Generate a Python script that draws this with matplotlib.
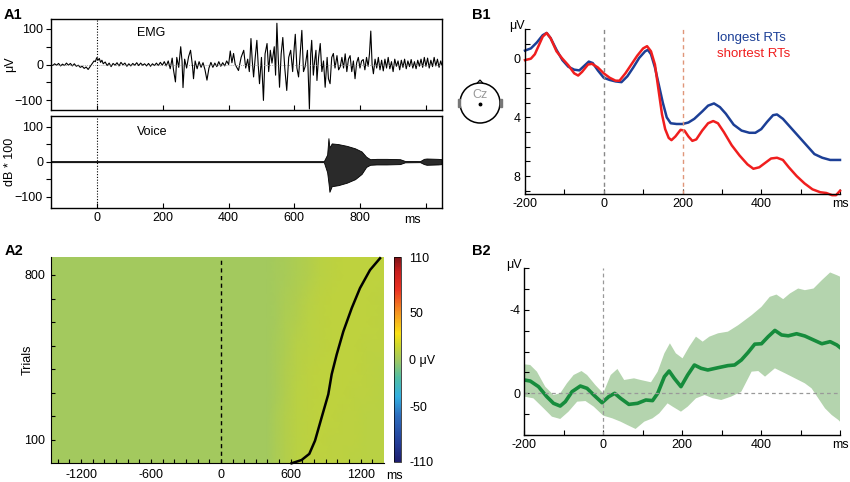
import numpy as np
import matplotlib.pyplot as plt
from matplotlib.colors import LinearSegmentedColormap, Normalize
from matplotlib.patches import Circle, Rectangle, Polygon

plt.rcParams['font.family'] = ['Liberation Sans', 'DejaVu Sans']
plt.rcParams['font.size'] = 9

# ---- A1: EMG trace (ms, uV)
emg_ms = [-142, -136, -130, -124, -118, -112, -106, -100, -94, -88, -82, -76, -70, -64, -58, -52, -46, -40,
          -34, -28, -22, -16, -10, -6, -2, 2, 6, 10, 14, 18, 24, 30, 36, 42, 48, 54, 60, 66, 72, 78, 84, 90,
          96, 102, 108, 114, 120, 126, 132, 138, 144, 150, 156, 162, 168, 174, 180, 186, 192, 198, 204, 210,
          216, 222, 228, 232, 238, 242, 248, 254, 258, 261, 266, 272, 278, 284, 290, 293, 298, 304, 310, 316,
          322, 328, 334, 340, 346, 352, 358, 364, 370, 376, 382, 388, 394, 400, 405, 410, 415, 420, 430, 438,
          446, 452, 458, 463, 468, 472, 476, 481, 486, 490, 494, 500, 506, 511, 517, 522, 527, 532, 539, 543,
          547, 551, 555, 560, 565, 571, 577, 583, 589, 595, 600, 603, 608, 613, 618, 623, 628, 633, 640, 646,
          650, 653, 658, 662, 666, 669, 674, 679, 684, 689, 694, 700, 704, 709, 714, 719, 724, 730, 735, 740,
          745, 750, 755, 760, 765, 770, 775, 780, 785, 790, 795, 800, 805, 810, 815, 820, 825, 829, 833, 837,
          841, 846, 851, 856, 861, 866, 871, 876, 881, 886, 891, 896, 901, 906, 911, 916, 921, 926, 931, 936,
          941, 946, 951, 956, 961, 966, 971, 976, 981, 986, 991, 996, 1001, 1006, 1011, 1016, 1021, 1026, 1031,
          1036, 1041, 1046, 1049]
emg_uv = [0, -3, 2, -2, 3, -4, 1, -3, 4, -2, 3, -4, 2, -5, -2, -8, -5, -11,
          -7, -14, -6, 2, 10, 8, 19, 12, 17, 6, 12, 2, 7, -3, 4, -6, 3, -2, 5, -4, 6, -1, 4, -5,
          2, -4, 3, -2, 5, -3, 4, -2, 2, -4, 3, -5, 2, -3, 4, -3, 6, -2, 8, -4,
          10, -12, 18, -15, -49, 20, -8, 50, 10, -65, 15, -10, 22, 40, -5, -40, 10, -12, 8, -8,
          5, -15, -44, -10, 6, -8, 4, -6, 8, -5, 5, -4, 10, 0, 38, 5, 31, 0, -17, 20,
          40, -10, 15, -20, 73, 10, -35, 20, 68, 0, -54, 20, -101, 30, 59, -20, 40, 4, 50, -30,
          116, 20, -64, 30, 76, -10, -73, 20, 40, -20, 50, 85, -10, -35, 30, 96, -20, -6, 40, -125,
          30, 68, -30, 10, 40, -45, 20, 59, -20, 10, -64, 20, -40, -54, 20, 31, -10, 25, -15, -6,
          20, -10, 30, -20, 15, 25, -20, 10, -40, 5, 20, -10, 10, 14, -15, 20, -5, 30, 94, 0,
          -26, 15, -10, 20, -15, 12, -18, 15, -10, 20, -12, 8, -20, 15, -5, 10, -15, 12, -8, 15,
          -12, 10, -6, 14, -10, 8, -12, 12, -5, 15, -8, 20, -5, 18, -10, 12, -6, 20, -4,
          15, -8, 10, 0]

# ---- A1: voice envelope (ms, dB*100)
voice_ms = [-142, 690, 700, 704, 707, 714, 734, 760, 785, 805, 819, 831, 851, 881, 922, 937, 983, 995, 1003, 1038, 1049]
voice_hi = [1.5, 1.5, 20, 67, 40, 52, 50, 45, 38, 29, 14, 7, 8, 8, 7, 2, 1.5, 8, 9, 8, 7]
voice_lo = [-1.5, -1.5, -30, -60, -86, -70, -67, -60, -50, -35, -15, -9, -8, -8, -7, -2, -1.5, -7, -9, -8, -7]

# ---- A2: single-trial EMG image (coarse grid read by eye) and sorted RTs
grid_ms = [-1460, 400, 470, 550, 650, 750, 850, 950, 1050, 1150, 1250, 1400]
grid_trials = [0, 100, 200, 300, 400, 500, 600, 700, 800, 875]
grid_uv = [
    [0, 0, 3, 6, 8, 9, 9, 9, 9, 8, 8, 8],
    [0, 0, 3, 6, 8, 9, 10, 9, 9, 9, 8, 8],
    [0, 0, 3, 6, 8, 9, 10, 10, 9, 9, 8, 8],
    [0, 0, 2, 5, 8, 9, 10, 10, 10, 9, 9, 8],
    [0, 0, 2, 5, 7, 9, 10, 10, 10, 10, 9, 8],
    [0, 0, 2, 4, 7, 8, 9, 10, 10, 10, 9, 9],
    [0, 0, 1, 4, 6, 8, 9, 10, 10, 10, 10, 9],
    [0, 0, 1, 3, 5, 7, 9, 10, 10, 10, 10, 9],
    [0, 0, 1, 2, 4, 6, 8, 9, 10, 10, 10, 10],
    [0, 0, 1, 2, 4, 6, 8, 9, 10, 10, 10, 10],
]
rt_ms = [607, 693, 759, 808, 865, 922, 951, 994, 1051, 1123, 1194, 1280, 1366]
rt_trial = [0, 14, 40, 96, 195, 293, 378, 462, 560, 659, 744, 821, 871]

cbar_vals = [-110, -90, -60, -40, -20, 0, 15, 28, 50, 75, 95, 110]
cbar_cols = ['#1e1e6e', '#233c96', '#2d6ebe', '#32afe1', '#50bea5', '#a2c95f',
             '#cdd72d', '#fae114', '#f59620', '#eb3223', '#c81e1e', '#7d1419']

# ---- B1: ERPs at Cz (ms, uV)
long_ms = [-200, -185, -170, -155, -145, -135, -120, -105, -90, -75, -62, -50, -38, -28, -15, 0, 15, 30, 45,
           60, 75, 90, 105, 112, 120, 130, 140, 150, 160, 170, 185, 200, 215, 230, 250, 265, 280, 295, 310,
           330, 350, 370, 385, 400, 415, 430, 440, 455, 475, 495, 515, 535, 555, 575, 600]
long_uv = [-0.55, -0.7, -1.1, -1.6, -1.75, -1.4, -0.6, 0.1, 0.55, 0.75, 0.8, 0.5, 0.2, 0.3, 0.8, 1.3, 1.45,
           1.55, 1.6, 1.2, 0.6, -0.05, -0.5, -0.6, -0.3, 0.6, 1.8, 3.0, 4.0, 4.4, 4.45, 4.45, 4.35, 4.1, 3.6,
           3.2, 3.05, 3.3, 3.75, 4.5, 4.9, 5.05, 5.05, 4.8, 4.3, 3.85, 3.8, 4.1, 4.7, 5.3, 5.9, 6.5, 6.75,
           6.9, 6.9]
short_ms = [-200, -185, -175, -165, -155, -145, -135, -120, -105, -90, -75, -65, -55, -40, -30, -15, 0, 15, 30,
            40, 55, 70, 85, 100, 110, 120, 130, 140, 148, 156, 165, 172, 182, 195, 205, 215, 225, 235, 250,
            265, 278, 290, 305, 325, 345, 365, 380, 395, 410, 425, 440, 455, 470, 490, 510, 530, 550, 565,
            580, 590, 600]
short_uv = [0.1, 0.0, -0.3, -0.9, -1.5, -1.75, -1.4, -0.5, 0.0, 0.45, 1.0, 1.15, 0.9, 0.4, 0.35, 0.6, 1.0,
            1.3, 1.5, 1.5, 1.0, 0.4, -0.2, -0.7, -0.85, -0.5, 0.4, 2.3, 3.8, 4.8, 5.4, 5.55, 5.3, 4.85, 4.9,
            5.3, 5.6, 5.5, 4.9, 4.4, 4.25, 4.4, 5.0, 5.9, 6.6, 7.2, 7.5, 7.4, 7.1, 6.8, 6.75, 6.9, 7.4, 8.0,
            8.5, 8.9, 9.1, 9.15, 9.3, 9.3, 9.0]

# ---- B2: difference wave with confidence band
diff_ms = [-200, -185, -164, -143, -126, -109, -96, -79, -58, -41, -24, -3, 14, 29, 44, 65, 87, 108, 125,
           138, 155, 167, 180, 197, 214, 231, 248, 265, 291, 316, 333, 350, 367, 384, 401, 418, 435, 452,
           469, 490, 511, 533, 554, 575, 592, 600]
diff_uv = [-0.64, -0.59, -0.32, 0.16, 0.48, 0.61, 0.40, -0.08, -0.35, -0.24, 0.08, 0.45, 0.16, 0.0, 0.24,
           0.53, 0.48, 0.32, 0.35, 0.0, -0.8, -1.07, -0.72, -0.32, -0.88, -1.36, -1.2, -1.12, -1.23, -1.33,
           -1.36, -1.6, -1.96, -2.36, -2.38, -2.72, -3.02, -2.8, -2.76, -2.86, -2.75, -2.56, -2.38, -2.48,
           -2.32, -2.2]
top_ms = [-200, -185, -168, -147, -126, -109, -92, -75, -55, -41, -20, 0, 19, 36, 53, 78, 95, 121, 138, 155,
          169, 184, 201, 218, 235, 252, 269, 291, 316, 342, 376, 401, 422, 439, 456, 473, 494, 511, 533, 554,
          575, 592, 600]
top_uv = [-1.39, -1.36, -1.04, -0.32, 0.08, 0.0, -0.48, -0.88, -1.07, -0.88, -0.4, 0.0, -0.88, -1.17, -0.64,
          -0.72, -0.64, -0.53, -1.04, -1.92, -2.4, -1.92, -1.68, -2.24, -2.72, -2.48, -2.72, -2.88, -2.96,
          -3.27, -3.75, -4.15, -4.63, -4.74, -4.52, -4.79, -5.03, -4.95, -5.03, -5.43, -5.8, -5.67, -5.6]
bot_ms = [-200, -177, -151, -130, -109, -88, -66, -45, -24, 0, 23, 44, 61, 82, 104, 125, 142, 163, 176, 197,
          214, 235, 257, 278, 299, 324, 350, 376, 393, 410, 435, 461, 486, 511, 528, 545, 562, 579, 596, 600]
bot_uv = [0.16, 0.24, 0.72, 1.12, 1.23, 0.88, 0.4, 0.37, 0.64, 1.07, 1.2, 1.36, 1.52, 1.71, 1.36, 1.2, 0.96,
          0.48, 0.64, 0.88, 0.64, 0.24, 0.08, 0.24, 0.32, 0.16, -0.08, -1.04, -1.07, -0.8, -1.2, -0.96, -0.72,
          -0.48, -0.24, 0.24, 0.72, 1.04, 1.28, 1.36]

W, H = 850, 482


def box(x0, y0, x1, y1):
    return [x0 / W, 1 - y1 / H, (x1 - x0) / W, (y1 - y0) / H]


fig = plt.figure(figsize=(8.5, 4.82), dpi=100)

# ---------------- A1 EMG
ax_emg = fig.add_axes(box(50.7, 19, 441.7, 110))
ax_emg.plot(emg_ms, emg_uv, color='black', lw=0.8)
ax_emg.axhline(0, color='#888888', ls=(0, (1, 1.5)), lw=0.6)
ax_emg.axvline(0, color='black', ls=(0, (1, 1.5)), lw=0.8)
ax_emg.set_xlim(-142, 1049)
ax_emg.set_ylim(-128, 128)
ax_emg.text(120, 88, 'EMG', ha='left', va='center', fontsize=9)

# ---------------- A1 voice
ax_voc = fig.add_axes(box(50.7, 116, 441.7, 208))
ax_voc.fill_between(voice_ms, voice_lo, voice_hi, color='#2a2a2a', lw=0.6, edgecolor='black')
ax_voc.axvline(0, color='black', ls=(0, (1, 1.5)), lw=0.8)
ax_voc.set_xlim(-142, 1049)
ax_voc.set_ylim(-132, 130)
ax_voc.text(120, 84, 'Voice', ha='left', va='center', fontsize=9)

for a in (ax_emg, ax_voc):
    a.set_yticks([-100, 0, 100])
    a.set_yticks([-50, 50], minor=True)
    a.set_xticks([0, 200, 400, 600, 800, 1000])
    a.tick_params(axis='y', which='both', direction='out', length=3.5, width=0.8, pad=2)
    a.tick_params(axis='x', direction='in', length=3.5, width=0.8, pad=3)
    for s in a.spines.values():
        s.set_linewidth(1.0)
ax_emg.set_xticklabels([])
ax_voc.set_xticklabels(['0', '200', '400', '600', '800', ''])
ax_voc.text(960, -150, 'ms', ha='center', va='top', fontsize=9)

fig.text(10 / W, 1 - 64 / H, 'μV', rotation=90, ha='center', va='center', fontsize=9)
fig.text(10 / W, 1 - 162 / H, 'dB * 100', rotation=90, ha='center', va='center', fontsize=9)

# ---------------- A2 image
cmap = LinearSegmentedColormap.from_list(
    'emg', [((v + 110) / 220, c) for v, c in zip(cbar_vals, cbar_cols)])
norm = Normalize(-110, 110)
ax_img = fig.add_axes(box(50.7, 257.3, 384, 463.3))
mesh = ax_img.pcolormesh(grid_ms, grid_trials, np.array(grid_uv), cmap=cmap, norm=norm,
                         shading='gouraud', rasterized=True)
ax_img.plot(rt_ms, rt_trial, color='black', lw=1.8, clip_on=False)
ax_img.axvline(0, color='black', ls=(0, (3, 2.5)), lw=1.0)
ax_img.set_xlim(-1460, 1400)
ax_img.set_ylim(0, 875)
ax_img.set_xticks(range(-1400, 1400, 100))
ax_img.set_xticklabels(['' if t not in (-1200, -600, 0, 600, 1200) else str(t)
                        for t in range(-1400, 1400, 100)])
ax_img.set_yticks(range(100, 801, 100))
ax_img.set_yticklabels(['100', '', '', '', '', '', '', '800'])
ax_img.tick_params(direction='in', length=3, width=0.8, pad=4)
ax_img.spines['top'].set_visible(False)
ax_img.spines['right'].set_visible(False)
ax_img.text(1420, -28, 'ms', ha='left', va='top', fontsize=9)
fig.text(28 / W, 1 - 360 / H, 'Trials', rotation=90, ha='center', va='center', fontsize=9)

cax = fig.add_axes(box(394, 257, 401, 462))
cb = fig.colorbar(mesh, cax=cax)
cb.set_ticks([-110, -50, 0, 50, 110])
cb.set_ticklabels(['-110', '-50', '0 μV', '50', '110'])
cax.minorticks_off()
cax.tick_params(length=0, pad=6, labelsize=9)
cb.outline.set_linewidth(0.5)

# ---------------- head icon
ax_head = fig.add_axes(box(455, 78, 505, 128))
ax_head.set_xlim(-25, 25)
ax_head.set_ylim(-25, 25)
ax_head.axis('off')
ax_head.add_patch(Circle((0, 0), 20, fill=False, lw=1.1, color='black'))
ax_head.add_patch(Polygon([(-3, 19.6), (0, 23), (3, 19.6)], closed=False, fill=False, lw=0.9, color='black'))
ax_head.add_patch(Rectangle((-22, -4), 2.2, 8, color='#777777'))
ax_head.add_patch(Rectangle((19.8, -4), 2.2, 8, color='#777777'))
ax_head.text(0, 8, 'Cz', ha='center', va='center', color='#999999', fontsize=9)
ax_head.plot([0], [-1], marker='o', ms=1.8, color='black')

# ---------------- B1
ax_b1 = fig.add_axes(box(525, 29.3, 840, 194.3))
ax_b1.plot(long_ms, long_uv, color='#1c3f96', lw=1.8, clip_on=False)
ax_b1.plot(short_ms, short_uv, color='#f01e1e', lw=1.8, clip_on=False)
ax_b1.axvline(0, color='#888888', ls=(0, (3, 2.5)), lw=1.0)
ax_b1.axvline(200, color='#e0967a', ls=(0, (3, 2.5)), lw=1.0)
ax_b1.set_xlim(-200, 600)
ax_b1.set_ylim(9.24, -2)
ax_b1.set_yticks(range(-2, 10))
ax_b1.set_yticklabels(['' if v not in (0, 4, 8) else str(v) for v in range(-2, 10)])
fig.text(717 / W, 1 - 38 / H, 'longest RTs', color='#1c3f96', ha='left', va='center', fontsize=9.5)
fig.text(717 / W, 1 - 54 / H, 'shortest RTs', color='#f01e1e', ha='left', va='center', fontsize=9.5)
fig.text(517 / W, 1 - 26 / H, 'μV', ha='center', va='center', fontsize=9)

# ---------------- B2
ax_b2 = fig.add_axes(box(524.3, 268.3, 840, 435))
band_x = np.array(top_ms + bot_ms[::-1])
band_y = np.array(top_uv + bot_uv[::-1])
ax_b2.fill(band_x, band_y, color='#b4d4ae', lw=0)
ax_b2.plot(diff_ms, diff_uv, color='#168c3c', lw=2.6, solid_joinstyle='round')
ax_b2.axhline(0, color='#999999', ls=(0, (3, 2.5)), lw=0.9)
ax_b2.axvline(0, color='#999999', ls=(0, (3, 2.5)), lw=0.9)
ax_b2.set_xlim(-200, 600)
ax_b2.set_ylim(2, -6)
ax_b2.set_yticks(range(-6, 3))
ax_b2.set_yticklabels(['' if v not in (-4, 0) else str(v) for v in range(-6, 3)])
fig.text(514 / W, 1 - 265 / H, 'μV', ha='center', va='center', fontsize=9)

for a in (ax_b1, ax_b2):
    a.set_xticks(range(-200, 601, 100))
    a.set_xticklabels(['-200', '', '0', '', '200', '', '400', '', 'ms'])
    a.spines['top'].set_visible(False)
    a.spines['right'].set_visible(False)
    a.spines['left'].set_linewidth(1.0)
    a.spines['bottom'].set_linewidth(1.0)
    a.tick_params(direction='in', length=3.5, width=0.8, pad=3)

# panel letters
for lab, x, y in [('A1', 4, 15), ('A2', 5, 251), ('B1', 472, 15), ('B2', 472, 251)]:
    fig.text(x / W, 1 - y / H, lab, fontweight='bold', fontsize=10.5, ha='left', va='center')

fig.savefig('out.png', dpi=100)
